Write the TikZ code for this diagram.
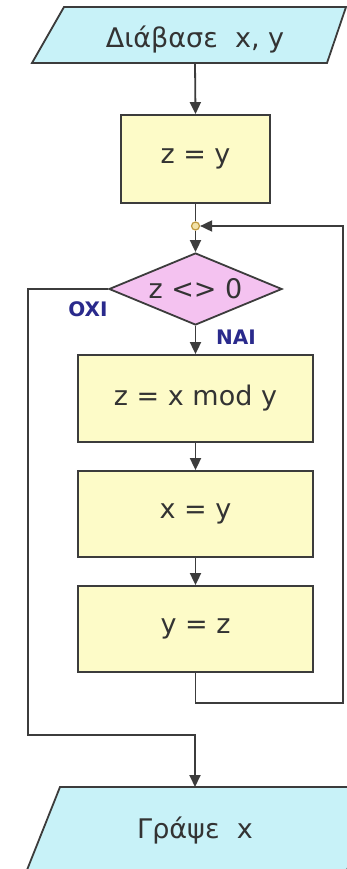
\documentclass[tikz,border=0pt]{standalone}
\usepackage{fontspec}
\setmainfont{DejaVu Sans}
\usetikzlibrary{arrows.meta,shapes.geometric}
\definecolor{iofill}{HTML}{C8F2F8}
\definecolor{procfill}{HTML}{FDFBC8}
\definecolor{decfill}{HTML}{F4C2F0}
\definecolor{edgecol}{HTML}{3C3C3C}
\definecolor{txtcol}{HTML}{333333}
\definecolor{lblcol}{HTML}{2A2A8C}
\definecolor{jfill}{HTML}{F2E2A8}
\definecolor{jdraw}{HTML}{C09A40}
\begin{document}
\begin{tikzpicture}[x=1pt,y=-1pt,
  txt/.style={text=txtcol,font=\fontsize{27}{30}\selectfont,inner sep=0pt},
  procbox/.style={draw=edgecol,line width=1.8pt,fill=procfill,text=txtcol,font=\fontsize{27}{30}\selectfont},
  decbox/.style={diamond,aspect=2.4,inner sep=0pt,draw=edgecol,line width=1.8pt,fill=decfill,text=txtcol,font=\fontsize{27}{30}\selectfont,minimum width=173pt,minimum height=72pt},
  iobox/.style={draw=edgecol,line width=1.8pt,fill=iofill},
  lbl/.style={text=lblcol,font=\bfseries\fontsize{20}{22}\selectfont,inner sep=0pt},
  line/.style={draw=edgecol,line width=1.8pt},
  arr/.style={line,-{Triangle[width=11pt,length=12pt]}}]
\useasboundingbox (0,0) rectangle (347,869);
\clip (0,0) rectangle (347,869);
\fill[white] (0,0) rectangle (347,869);
% input parallelogram
\path[iobox] (32,63) -- (64,7) -- (346,7) -- (327,63) -- cycle;
\node[txt] (in) at (195,40) {Διάβασε\ \ x, y};
\coordinate (inb) at (195,63);
% output parallelogram
\path[iobox] (25,875) -- (60,787) -- (380,787) -- (345,875) -- cycle;
\node[txt] (out) at (195,830) {Γράψε\ \ x};
\coordinate (outt) at (195,787);
% process boxes
\node[procbox,minimum width=149pt,minimum height=88pt] (b1) at (195.5,159) {z = y};
\node[procbox,minimum width=235pt,minimum height=87pt] (b2) at (195.5,398.5) {z = x mod y};
\node[procbox,minimum width=235pt,minimum height=86pt] (b3) at (195.5,514) {x = y};
\node[procbox,minimum width=235pt,minimum height=86pt] (b4) at (195.5,629) {y = z};
% decision
\node[decbox] (d) at (195.5,289) {z <> 0};
\node[lbl] (no) at (88,309) {OXI};
\node[lbl] (yes) at (236,337) {NAI};
% junction
\node[circle,draw=jdraw,fill=jfill,line width=1.2pt,minimum size=8pt,inner sep=0pt] (j) at (195.5,226) {};
\coordinate (r1) at (343,703);
\coordinate (r2) at (343,226);
\coordinate (l1) at (28,735);
% connectors
\draw[arr] (inb) -- (b1.north);
\draw[line] (b1.south) -- (j.north);
\draw[arr] (j.south) -- (d.north);
\draw[arr] (d.south) -- (b2.north);
\draw[arr] (b2.south) -- (b3.north);
\draw[arr] (b3.south) -- (b4.north);
\draw[arr] (b4.south) |- (r1) -- (r2) -- (j.east);
\draw[arr] (d.west) -| (l1) -| (outt);
\end{tikzpicture}
\end{document}
